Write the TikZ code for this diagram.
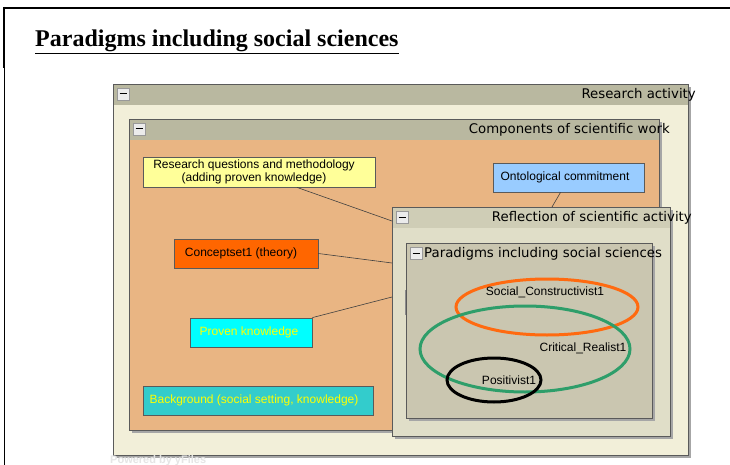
\documentclass[tikz,border=0pt]{standalone}
\usepackage{fontspec}
\setmainfont{Liberation Serif}
\newfontfamily\boxfont{DejaVu Sans}
\newfontfamily\nodefont{Liberation Sans}
\definecolor{hdr}{HTML}{B9B8A0}
\definecolor{hdrlight}{HTML}{CFCDB6}
\definecolor{fillresearch}{HTML}{F2EFD9}
\definecolor{fillcomp}{HTML}{E9B583}
\definecolor{fillrefl}{HTML}{E0DEC8}
\definecolor{fillpar}{HTML}{CAC6B0}
\definecolor{rqyellow}{HTML}{FFFF99}
\definecolor{ontblue}{HTML}{99CCFF}
\definecolor{concorange}{HTML}{FF6600}
\definecolor{provcyan}{HTML}{00FFFF}
\definecolor{bgteal}{HTML}{33CCCC}
\definecolor{ellorange}{HTML}{FF6A10}
\definecolor{ellgreen}{HTML}{2E9E6A}
\definecolor{edgegray}{HTML}{5A5A5A}
\definecolor{labelyellow}{HTML}{FFFF00}
\tikzset{
  groupbox/.style={draw=edgegray, line width=0.8pt},
  shadowbox/.style={fill=black!35, draw=none},
  grouplabel/.style={font=\boxfont\fontsize{13.3}{15}\selectfont, text=black, anchor=east, inner sep=0pt},
  minusbtn/.style={draw=black!40, fill=black!8, line width=0.5pt},
  leaf/.style={draw=edgegray, line width=0.8pt, inner sep=0pt},
  leaftext/.style={font=\nodefont\fontsize{12}{13}\selectfont, align=center, inner sep=0pt},
  link/.style={draw=black!75, line width=0.6pt},
  ell/.style={line width=3pt}
}
\newcommand{\groupframe}[7]{%
  % #1 name, #2 x0, #3 y0, #4 x1, #5 y1, #6 body fill, #7 header fill
  \fill[shadowbox] (#2+3,#3+3) rectangle (#4+3,#5+3);
  \fill[#6] (#2,#3) rectangle (#4,#5);
  \fill[#7] (#2,#3) rectangle (#4,#3+21);
  \draw[groupbox] (#2,#3) rectangle (#4,#5);
  \coordinate (#1-nw) at (#2,#3);
  \coordinate (#1-se) at (#4,#5);
  \draw[minusbtn] (#2+4,#3+4) rectangle (#2+16,#3+16);
  \draw[black, line width=1pt] (#2+6.5,#3+10) -- (#2+13.5,#3+10);
}
\begin{document}
\begin{tikzpicture}[x=1pt,y=-1pt]
\useasboundingbox (0,0) rectangle (730,465);
\fill[white] (0,0) rectangle (730,465);

% slide frame and title
\draw[black, line width=2.2pt] (3,8) -- (730,8);
\draw[black, line width=2.2pt] (4,7) -- (4,68);
\draw[black, line width=0.9pt] (4,68) -- (4,465);
\node[anchor=base west, inner sep=0pt, font=\fontsize{24}{26}\selectfont\bfseries] (title) at (35,47) {\underline{Paradigms including social sciences}};

% nested groups
\groupframe{ra}{113}{84}{688}{455}{fillresearch}{hdr}
\node[grouplabel] (ralabel) at (696,95) {Research activity};

\groupframe{cw}{129}{119}{659}{430}{fillcomp}{hdr}
\node[grouplabel] (cwlabel) at (670,130) {Components of scientific work};

% leaf nodes inside the components group
\node[leaf, fill=rqyellow, minimum width=232pt, minimum height=30pt] (rq) at (259,172) {};
\node[leaftext] (rqt) at (254,172) {Research questions and methodology\\(adding proven knowledge)};
\node[leaf, fill=ontblue, minimum width=151pt, minimum height=29pt] (ont) at (568.5,177.5) {};
\node[leaftext] (ontt) at (565,177.5) {Ontological commitment};
\node[leaf, fill=concorange, minimum width=144pt, minimum height=29pt] (conc) at (246,253.5) {};
\node[leaftext] (conct) at (241,253.5) {Conceptset1 (theory)};
\node[leaf, fill=provcyan, minimum width=122pt, minimum height=29pt] (prov) at (251,332.5) {};
\node[leaftext, text=labelyellow] (provt) at (249,332.5) {Proven knowledge};
\node[leaf, fill=bgteal, minimum width=230pt, minimum height=29pt] (bg) at (258,400.5) {};
\node[leaftext, text=labelyellow] (bgt) at (254,400.5) {Background (social setting, knowledge)};

\groupframe{rf}{392}{207}{670}{436}{fillrefl}{hdrlight}
\node[grouplabel] (rflabel) at (692,218) {Reflection of scientific activity};

% links into the reflection group
\coordinate (rfa) at (392,221);
\coordinate (rfb) at (552,207);
\coordinate (rfc) at (392,263);
\coordinate (rfd) at (392,297);
\draw[link] (rq.south) ++(38,0) coordinate (rqs) -- (rfa);
\draw[link] (ont.south) ++(-8,0) coordinate (onts) -- (rfb);
\draw[link] (conc.east) -- (rfc);
\draw[link] (prov.north east) -- (rfd);

\groupframe{pr}{406}{243}{652}{418}{fillpar}{fillpar}
\node[grouplabel, anchor=west] (prlabel) at (424,254) {Paradigms including social sciences};
\draw[black!45, line width=1pt] (405,290) -- (405,315);

% paradigm sets
\draw[ell, ellorange] (547,307) ellipse [x radius=91, y radius=28];
\draw[ell, ellgreen] (525,349) ellipse [x radius=105, y radius=43];
\draw[ell, black] (494,380) ellipse [x radius=47, y radius=22];
\node[leaftext] (sc) at (545,292) {Social\_Constructivist1};
\node[leaftext] (cr) at (583,348) {Critical\_Realist1};
\node[leaftext] (po) at (509,380) {Positivist1};

% watermark
\node[anchor=north west, inner sep=0pt, text=black!10, font=\nodefont\fontsize{11}{12}\selectfont\bfseries] (wm) at (110,455) {Powered by yFiles};
\end{tikzpicture}
\end{document}
